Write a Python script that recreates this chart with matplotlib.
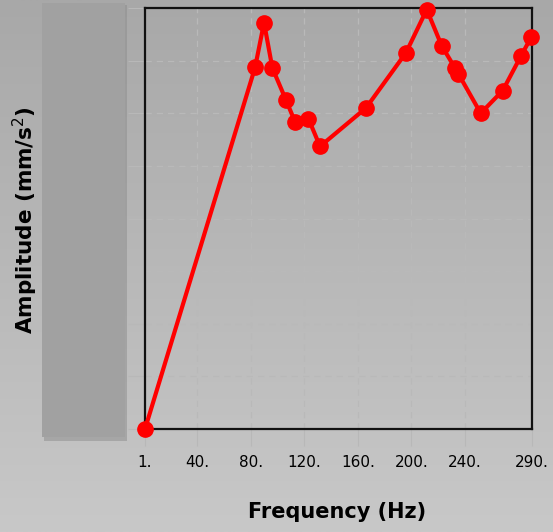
import matplotlib
matplotlib.use("Agg")
import matplotlib.pyplot as plt
import numpy as np
from matplotlib.patches import Rectangle

# ── Data (amplitude in grid units, axis 0..8) ────────────────────────────────
freq = [1, 83.2, 89.9, 96.1, 106.3, 113.0, 123.0, 131.7, 166.0, 195.9,
        211.4, 222.6, 232.5, 235.0, 251.7, 268.1, 281.8, 289.3]
amplitude = [0.0, 6.87, 7.72, 6.86, 6.25, 5.84, 5.90, 5.37, 6.10, 7.15,
             7.97, 7.28, 6.86, 6.75, 6.00, 6.43, 7.09, 7.44]
x_ticks = [1, 40, 80, 120, 160, 200, 240, 290]
x_tick_labels = ["1.", "40.", "80.", "120.", "160.", "200.", "240.", "290."]
y_ticks = [0, 1, 2, 3, 4, 5, 6, 7, 8]

W, H = 553, 532
fig = plt.figure(figsize=(W / 100, H / 100), dpi=100)

# background: vertical grey gradient over the whole figure
bg = fig.add_axes([0, 0, 1, 1], zorder=-10)
grad = np.linspace(0, 1, 256).reshape(-1, 1)
bg.imshow(grad, aspect="auto", cmap=matplotlib.colors.LinearSegmentedColormap.from_list(
    "g", ["#a8a8a8", "#c8c8c8"]), extent=[0, 1, 0, 1], origin="upper")
bg.set_xlim(0, 1)
bg.set_ylim(0, 1)
bg.axis("off")

# left panel (covers the y tick labels), with a small drop shadow
bg.add_patch(Rectangle((44 / W, 1 - 441 / H), 83 / W, 436 / H,
                       facecolor="#8c8c8c", alpha=0.5, edgecolor="none"))
bg.add_patch(Rectangle((42 / W, 1 - 437 / H), 83 / W, 434 / H,
                       facecolor="#a1a1a1", edgecolor="none"))

ax = fig.add_axes([145 / W, 1 - 429 / H, 387 / W, 421 / H])
ax.patch.set_alpha(0)

ax.plot(freq, amplitude, color="#ff0000", lw=3, marker="o", ms=11,
        clip_on=False, zorder=5)

ax.set_xlim(1, 290)
ax.set_ylim(0, 8)
ax.set_xticks(x_ticks)
ax.set_xticklabels(x_tick_labels, fontsize=11)
ax.set_yticks(y_ticks)
ax.set_yticklabels([])
ax.tick_params(axis="both", direction="out", length=12, width=0.8,
               color="#b8b8b8", pad=4)
ax.tick_params(axis="x", pad=7)

for v in x_ticks[1:-1]:
    ax.axvline(v, color="#b9b9b9", lw=0.9, ls=(0, (5, 4)), zorder=1)
for v in y_ticks[1:-1]:
    ax.axhline(v, color="#b9b9b9", lw=0.9, ls=(0, (5, 4)), zorder=1)

for s in ax.spines.values():
    s.set_linewidth(1.6)
    s.set_color("#111111")

fig.text(337 / W, 1 - 512 / H, "Frequency (Hz)", ha="center", va="center",
         fontsize=15, fontweight="bold")
fig.text(25 / W, 1 - 220 / H, r"Amplitude (mm/s$^2$)", ha="center", va="center",
         rotation=90, fontsize=15.5, fontweight="bold")

fig.savefig("out.png", dpi=100)
